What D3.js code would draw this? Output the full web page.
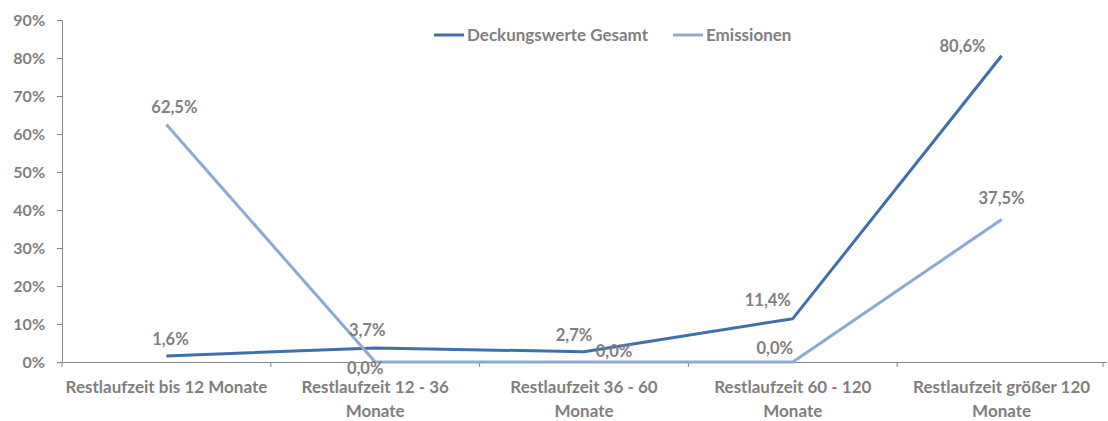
<!DOCTYPE html>
<html>
<head>
<meta charset="utf-8">
<script src="https://cdn.jsdelivr.net/npm/d3@7"></script>
<style>
  body { margin: 0; background: #fff; }
  text { font-family: Lato, "Open Sans", sans-serif; font-weight: bold; fill: #7f7f7f; }
</style>
</head>
<body>
<div id="container"></div>
<script>
// DATA
const categories = [
  ["Restlaufzeit bis 12 Monate"],
  ["Restlaufzeit 12 - 36", "Monate"],
  ["Restlaufzeit 36 - 60", "Monate"],
  ["Restlaufzeit 60 - 120", "Monate"],
  ["Restlaufzeit größer 120", "Monate"]
];
const seriesNames = ["Deckungswerte Gesamt", "Emissionen"];
const deckung = [1.6, 3.7, 2.7, 11.4, 80.6];
const emissionen = [62.5, 0.0, 0.0, 0.0, 37.5];
const yTicks = [0, 10, 20, 30, 40, 50, 60, 70, 80, 90];

// label offsets (dx, dy) relative to the point
const deckungOff = [[4, -11], [-8, -12], [-10, -11], [-25, -13], [-39, -4]];
const emisOff = [[8, -12], [-10, 12], [30, -5], [-18, -8], [0, -16]];

// SVG
const width = 1108;
const height = 421;
const svg = d3.select("#container").append("svg")
    .attr("width", width)
    .attr("height", height);

// SCALES
const xScale = d3.scaleBand().domain(d3.range(categories.length)).range([62, 1106]);
const yScale = d3.scaleLinear().domain([0, 90]).range([362, 20]);
const cx = i => xScale(i) + xScale.bandwidth() / 2;

const colors = ["#4170a8", "#8ea9d2"];
const fmt = v => v.toFixed(1).replace(".", ",") + "%";

// AXES
const yAxisGen = d3.axisLeft(yScale).tickValues(yTicks).tickSize(5).tickFormat(d => d + "%");
const yAxis = svg.append("g")
    .attr("transform", "translate(62,0)")
    .call(yAxisGen);
yAxis.select(".domain").attr("stroke", "#868686");
yAxis.selectAll(".tick line").attr("stroke", "#868686");
yAxis.selectAll(".tick text")
    .attr("x", -17)
    .attr("font-size", 16)
    .style("font-family", "Lato, sans-serif")
    .style("font-weight", "bold")
    .attr("fill", "#7f7f7f");

const xAxisGen = d3.axisBottom(xScale).tickSize(0).tickFormat("");
const xAxis = svg.append("g")
    .attr("transform", "translate(0,362)")
    .call(xAxisGen);
xAxis.select(".domain").attr("stroke", "#868686");

// tick marks at band edges
svg.append("g")
    .selectAll("line")
    .data(d3.range(categories.length + 1))
    .enter().append("line")
      .attr("x1", i => i < categories.length ? xScale(i) : xScale.range()[1] - 3)
      .attr("x2", i => i < categories.length ? xScale(i) : xScale.range()[1] - 3)
      .attr("y1", 362)
      .attr("y2", 367)
      .attr("stroke", "#868686");

// category labels
const catG = svg.append("g");
categories.forEach((lines, i) => {
  const t = catG.append("text")
      .attr("text-anchor", "middle")
      .attr("font-size", 17);
  lines.forEach((ln, j) => {
    t.append("tspan")
      .attr("x", cx(i))
      .attr("y", 393 + j * 24)
      .text(ln);
  });
});

// LINES
const line = d3.line()
    .x((d, i) => cx(i))
    .y(d => yScale(d));

[deckung, emissionen].forEach((s, k) => {
  svg.append("path")
      .datum(s)
      .attr("fill", "none")
      .attr("stroke", colors[k])
      .attr("stroke-width", 3)
      .attr("stroke-linejoin", "round")
      .attr("d", line);
});

// DATA LABELS
[[deckung, deckungOff], [emissionen, emisOff]].forEach(([s, off]) => {
  svg.append("g")
    .selectAll("text")
    .data(s)
    .enter().append("text")
      .attr("text-anchor", "middle")
      .attr("font-size", 16.5)
      .attr("x", (d, i) => cx(i) + off[i][0])
      .attr("y", (d, i) => yScale(d) + off[i][1])
      .text(d => fmt(d));
});

// LEGEND
const legendX = [434, 673];
seriesNames.forEach((n, k) => {
  const g = svg.append("g").attr("transform", "translate(" + legendX[k] + ",35)");
  g.append("line")
      .attr("x1", 0).attr("x2", 30)
      .attr("stroke", colors[k])
      .attr("stroke-width", 3);
  g.append("text")
      .attr("x", 33)
      .attr("y", 6)
      .attr("font-size", 17)
      .text(n);
});
</script>
</body>
</html>
